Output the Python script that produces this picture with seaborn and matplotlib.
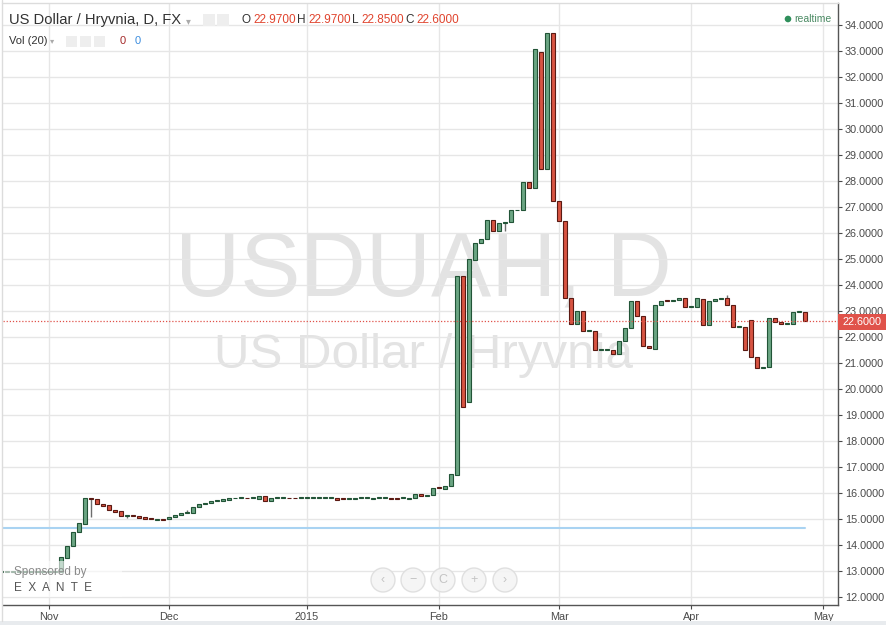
import matplotlib
matplotlib.use("Agg")
import matplotlib.pyplot as plt
import matplotlib.patches as mpatches
import seaborn as sns
import pandas as pd

# daily bars, weekdays only (x axis = bar index, like the trading chart)
dates = pd.bdate_range("2014-10-22", "2015-04-28")

opens = [12.95, 12.95, 12.95, 12.95, 12.95, 12.95, 12.95, 12.95,
         12.95, 12.96, 12.97, 13.50, 13.96, 14.50, 14.80, 15.80, 15.76, 15.57,
         15.53, 15.34, 15.30, 15.10, 15.15, 15.10, 15.06, 15.03, 14.95, 14.98,
         14.98, 15.08, 15.15, 15.23, 15.23, 15.46, 15.57, 15.61, 15.69, 15.70,
         15.72, 15.79, 15.80, 15.80, 15.80, 15.77, 15.88, 15.69, 15.80, 15.80,
         15.80, 15.80, 15.80, 15.80, 15.80, 15.80, 15.80, 15.80, 15.80, 15.80,
         15.78, 15.76, 15.80, 15.80, 15.77, 15.80, 15.80, 15.82, 15.80, 15.80,
         15.77, 15.80, 15.95, 15.88, 15.92, 16.20, 16.15, 16.26, 16.70, 24.35,
         19.50, 24.96, 25.60, 25.76, 26.50, 26.07, 26.40, 26.41, 26.87, 26.87,
         27.98, 27.72, 32.97, 28.45, 33.70, 27.22, 26.45, 23.50, 22.50, 23.00,
         22.24, 22.24, 21.50, 21.50, 21.50, 21.36, 21.85, 22.35, 23.39, 22.81,
         21.66, 21.55, 23.24, 23.40, 23.39, 23.43, 23.50, 23.16, 23.16, 23.47,
         22.48, 23.39, 23.46, 23.50, 23.22, 22.40, 22.40, 22.66, 21.24, 20.82,
         20.86, 22.74, 22.58, 22.50, 22.50, 22.97, 22.97]
closes = [12.95, 12.95, 12.95, 12.95, 12.95, 12.95, 12.95, 12.95,
          12.95, 12.97, 13.54, 13.95, 14.50, 14.84, 15.80, 15.76, 15.57, 15.50,
          15.34, 15.26, 15.10, 15.13, 15.10, 15.05, 15.00, 14.98, 14.98, 14.95,
          15.07, 15.15, 15.23, 15.23, 15.46, 15.57, 15.61, 15.69, 15.72, 15.76,
          15.80, 15.80, 15.80, 15.79, 15.80, 15.88, 15.69, 15.80, 15.80, 15.80,
          15.79, 15.79, 15.80, 15.80, 15.80, 15.80, 15.80, 15.80, 15.73, 15.77,
          15.80, 15.81, 15.80, 15.80, 15.82, 15.80, 15.80, 15.76, 15.78, 15.80,
          15.82, 15.95, 15.88, 15.90, 16.18, 16.18, 16.26, 16.72, 24.35, 19.30,
          25.00, 25.60, 25.76, 26.50, 26.07, 26.40, 26.40, 26.87, 26.87, 27.98,
          27.72, 33.08, 28.45, 33.70, 27.22, 26.45, 23.50, 22.50, 23.00, 22.24,
          22.24, 21.50, 21.50, 21.50, 21.36, 21.85, 22.35, 23.39, 22.81, 21.66,
          21.59, 23.24, 23.39, 23.39, 23.44, 23.50, 23.16, 23.16, 23.50, 22.48,
          23.39, 23.47, 23.50, 23.22, 22.40, 22.40, 21.50, 21.24, 20.82, 20.82,
          22.74, 22.58, 22.50, 22.50, 22.97, 22.97, 22.60]

# the few bars with a visible wick
wick_dates = ["2014-11-12", "2014-11-20", "2014-12-04", "2015-02-17", "2015-04-09"]
wick_highs = [15.80, 15.15, 15.34, 26.40, 23.60]
wick_lows = [15.07, 15.05, 15.23, 26.07, 23.22]

tick_dates = ["2014-11-03", "2014-12-01", "2015-01-01", "2015-02-02",
              "2015-03-02", "2015-04-01", "2015-05-01"]
tick_labels = ["Nov", "Dec", "2015", "Feb", "Mar", "Apr", "May"]
y_ticks = list(range(12, 35))

last_price = 22.60
support_level = 14.65

df = pd.DataFrame({"date": dates, "open": opens, "close": closes})
df["pos"] = range(len(df))
df["up"] = df["close"] >= df["open"]

sns.set_style("white")
plt.rcParams["font.family"] = ["Liberation Sans", "DejaVu Sans"]

W, H = 887, 625
fig = plt.figure(figsize=(W / 100, H / 100), dpi=100)
ax = fig.add_axes([3 / W, 20 / H, 835 / W, 602 / H])

up_fill, up_edge = "#6ba583", "#225437"
dn_fill, dn_edge = "#d75442", "#5b1a13"

# watermark
ax.text(0.503, 0.553, "USDUAH, D", transform=ax.transAxes, ha="center", va="center",
        fontsize=65, color="#e3e3e3", zorder=0)
ax.text(0.503, 0.415, "US Dollar / Hryvnia", transform=ax.transAxes, ha="center",
        va="center", fontsize=35.5, color="#e3e3e3", zorder=0)

# candles
bottoms = df[["open", "close"]].min(axis=1)
heights = (df["close"] - df["open"]).abs().clip(lower=0.035)
fills = [up_fill if u else dn_fill for u in df["up"]]
edges = [up_edge if u else dn_edge for u in df["up"]]
ax.bar(df["pos"], heights, bottom=bottoms, width=0.7, color=fills,
       edgecolor=edges, linewidth=0.8, zorder=3)

pos_of = dict(zip(df["date"], df["pos"]))
wick_pos = [pos_of[pd.Timestamp(d)] for d in wick_dates]
ax.vlines(wick_pos, wick_lows, wick_highs, color="#6d6d6d", linewidth=1, zorder=2)

# horizontal support line and last price line
ax.plot([0.3, df["pos"].iloc[-1]], [support_level, support_level],
        color="#a9d3f2", linewidth=1.5, zorder=1)
ax.axhline(last_price, color="#e0524a", linewidth=0.9, linestyle=(0, (1, 1.5)), zorder=4)

all_ticks = pd.bdate_range("2014-10-22", "2015-05-01")
tick_pos = [list(all_ticks).index(pd.Timestamp(d)) for d in tick_dates]
ax.set_xticks(tick_pos)
ax.set_xticklabels(tick_labels)
ax.set_yticks(y_ticks)
ax.set_yticklabels([f"{v:.4f}" for v in y_ticks])
ax.set_xlim(0.33, 139.5)
ax.set_ylim(11.69, 34.85)

ax.grid(True, color="#e6e6e6", linewidth=1)
ax.set_axisbelow(True)
ax.yaxis.tick_right()
ax.tick_params(axis="both", labelsize=7.8, colors="#4a4a4a", length=3, width=0.8,
               direction="out", pad=2)
ax.tick_params(axis="y", right=True, left=False)
ax.tick_params(axis="x", bottom=True)
for side in ["top", "left"]:
    ax.spines[side].set_visible(False)
for side in ["right", "bottom"]:
    ax.spines[side].set_color("#555555")
    ax.spines[side].set_linewidth(1)

# last price tag on the axis
fig.add_artist(mpatches.Rectangle((838, H - 330), 49, 16, transform=None,
                                  facecolor="#e0524a", edgecolor="none"))
fig.text(843 / W, 1 - 322 / H, "22.6000", color="white", fontsize=7.8,
         ha="left", va="center")

# frame pieces
fig.add_artist(mpatches.Rectangle((0, 0), W, 4, transform=None,
                                  facecolor="#e8ebee", edgecolor="none"))
fig.add_artist(plt.Line2D([2.5 / W, 2.5 / W], [4 / H, 1], color="#dcdcdc", linewidth=1))
fig.add_artist(plt.Line2D([2.5 / W, 838 / W], [1 - 2.5 / H, 1 - 2.5 / H],
                          color="#dcdcdc", linewidth=1))


def ftxt(x, y, s, **kw):
    fig.text(x / W, 1 - y / H, s, va="center", ha="left", **kw)


# legend header
ftxt(9, 20, "US Dollar / Hryvnia, D, FX", fontsize=10.6, color="#333333")
ftxt(186, 21, "▾", fontsize=7, color="#aaaaaa")
for x0 in (203, 217):
    fig.add_artist(mpatches.Rectangle((x0, H - 26), 12, 12, transform=None,
                                      facecolor="#eeeeee", edgecolor="none"))
ftxt(241, 20, "O", fontsize=8.5, color="#333333")
ftxt(253, 20, "22.9700", fontsize=8.5, color="#e0442e")
ftxt(297, 20, "H", fontsize=8.5, color="#333333")
ftxt(308, 20, "22.9700", fontsize=8.5, color="#e0442e")
ftxt(352, 20, "L", fontsize=8.5, color="#333333")
ftxt(361, 20, "22.8500", fontsize=8.5, color="#e0442e")
ftxt(405, 20, "C", fontsize=8.5, color="#333333")
ftxt(416, 20, "22.6000", fontsize=8.5, color="#e0442e")

ftxt(9, 41, "Vol (20)", fontsize=8, color="#333333")
ftxt(50, 42, "▾", fontsize=6, color="#aaaaaa")
for x0 in (66, 80, 94):
    fig.add_artist(mpatches.Rectangle((x0, H - 47), 11, 11, transform=None,
                                      facecolor="#eeeeee", edgecolor="none"))
ftxt(120, 41, "0", fontsize=8, color="#a52a2a")
ftxt(135, 41, "0", fontsize=8, color="#3c8dde")

# realtime badge
fig.add_artist(mpatches.Circle((788, H - 19), 3.3, transform=None,
                               facecolor="#2f8f5b", edgecolor="none"))
ftxt(794, 19, "realtime", fontsize=7.5, color="#4a8a63")

# sponsor box
fig.add_artist(mpatches.Rectangle((4, H - 597), 118, 36, transform=None,
                                  facecolor="white", alpha=0.6, edgecolor="none"))
ftxt(14, 572, "Sponsored by", fontsize=8.5, color="#8a8a8a")
ftxt(14, 588, "E  X  A  N  T  E", fontsize=8.5, color="#555555")

# navigation buttons
for cx, sym in zip([383, 413, 443, 474, 505], ["‹", "−", "C", "+", "›"]):
    fig.add_artist(mpatches.Circle((cx, H - 580), 12, transform=None,
                                   facecolor="#f4f4f4", edgecolor="#dddddd",
                                   linewidth=1, alpha=0.9))
    fig.text(cx / W, 1 - 580 / H, sym, ha="center", va="center",
             fontsize=9, color="#c4c4c4")

fig.savefig("out.png", dpi=100)
